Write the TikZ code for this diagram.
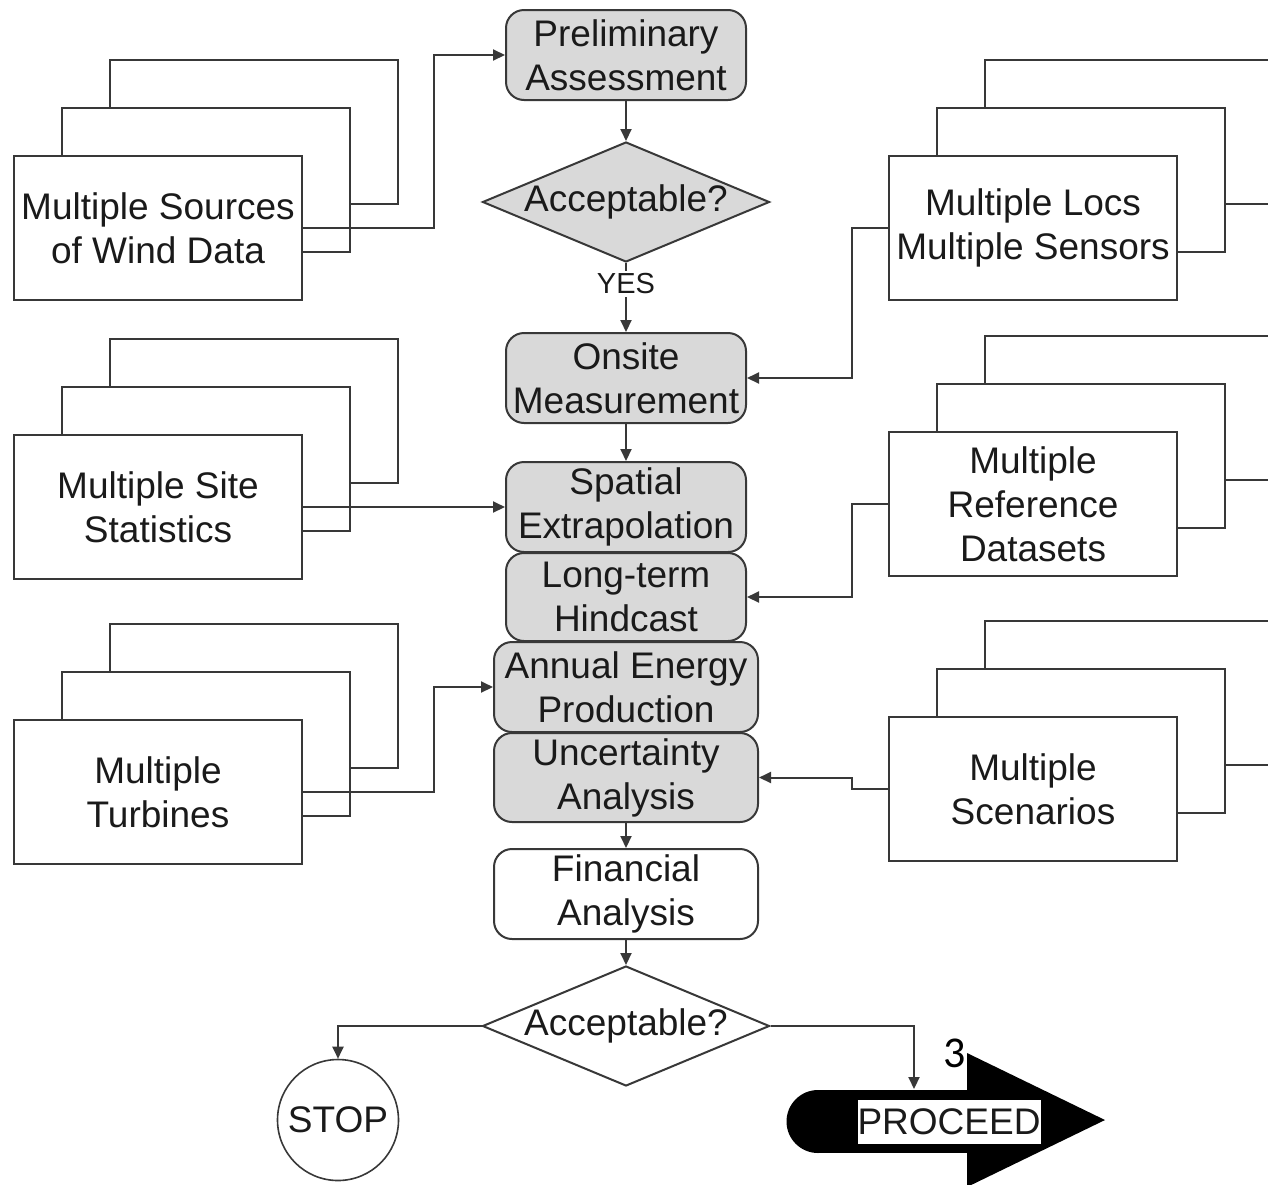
\documentclass[tikz,border=0pt]{standalone}
\usepackage{fontspec}
\setmainfont{Liberation Sans}
\newfontfamily\calibrifont{Carlito}
\usetikzlibrary{arrows.meta,shapes.geometric}
\definecolor{ln}{HTML}{383838}
\definecolor{boxgray}{HTML}{D9D9D9}
\definecolor{txt}{HTML}{1A1A1A}
\begin{document}
\begin{tikzpicture}[x=1pt,y=-1pt,
  mainfont/.style={font=\fontsize{37}{44}\selectfont, text=txt},
  proc/.style={mainfont, draw=ln, line width=2pt, rounded corners=18pt, fill=boxgray, align=center, inner sep=0pt},
  dia/.style={mainfont, shape=diamond, draw=ln, line width=2pt, shape aspect=2.39, minimum width=287pt, minimum height=120pt, inner sep=0pt},
  stackbox/.style={mainfont, draw=ln, line width=2pt, fill=white, minimum width=288pt, minimum height=144pt, inner sep=0pt, align=center},
  conn/.style={draw=ln, line width=2pt, -{Triangle[length=12pt,width=11pt]}},
  plain/.style={draw=ln, line width=2pt}]
\path[use as bounding box] (0,0) rectangle (1268,1184);
\clip (0,0) rectangle (1268,1184);

% left stacks
\node[stackbox] (l1back) at (254,132) {};
\node[stackbox] (l1mid) at (206,180) {};
\node[stackbox] (l1) at (158,228) {Multiple Sources\\of Wind Data};
\node[stackbox] (l2back) at (254,411) {};
\node[stackbox] (l2mid) at (206,459) {};
\node[stackbox] (l2) at (158,507) {Multiple Site\\Statistics};
\node[stackbox] (l3back) at (254,696) {};
\node[stackbox] (l3mid) at (206,744) {};
\node[stackbox] (l3) at (158,792) {Multiple\\Turbines};
% right stacks
\node[stackbox] (r1back) at (1129,132) {};
\node[stackbox] (r1mid) at (1081,180) {};
\node[stackbox] (r1) at (1033,228) {Multiple Locs\\Multiple Sensors};
\node[stackbox] (r2back) at (1129,408) {};
\node[stackbox] (r2mid) at (1081,456) {};
\node[stackbox] (r2) at (1033,504) {Multiple\\Reference\\Datasets};
\node[stackbox] (r3back) at (1129,693) {};
\node[stackbox] (r3mid) at (1081,741) {};
\node[stackbox] (r3) at (1033,789) {Multiple\\Scenarios};

% central column
\node[proc, minimum width=240pt, minimum height=90pt] (prelim) at (626,55) {Preliminary\\Assessment};
\node[dia, fill=boxgray] (acc1) at (626,202) {Acceptable?};
\node[font=\fontsize{29}{34}\selectfont, text=txt, inner sep=3pt] (yes) at (626,284) {YES};
\node[proc, minimum width=240pt, minimum height=90pt] (onsite) at (626,378) {Onsite\\Measurement};
\node[proc, minimum width=240pt, minimum height=90pt] (spatial) at (626,507) {Spatial\\Extrapolation};
\node[proc, minimum width=240pt, minimum height=88pt] (hind) at (626,597) {Long-term\\Hindcast};
\node[proc, minimum width=264pt, minimum height=90pt] (aep) at (626,687) {Annual Energy\\Production};
\node[proc, minimum width=264pt, minimum height=89pt] (unc) at (626,777.5) {Uncertainty\\Analysis};
\node[proc, minimum width=264pt, minimum height=90pt, fill=white] (fin) at (626,894) {Financial\\Analysis};
\node[dia, fill=white] (acc2) at (626,1026) {Acceptable?};
\node[mainfont, shape=circle, draw=ln, line width=1.6pt, minimum size=121pt, inner sep=0pt] (stop) at (338,1120) {STOP};

% proceed arrow
\fill[black] (818,1121.5) circle (31.5pt);
\fill[black] (818,1090) rectangle (968,1153);
\fill[black] (967,1053) -- (1105,1120) -- (967,1187) -- cycle;
\node[mainfont, draw=black, line width=0.8pt, fill=white, minimum width=184pt, minimum height=45pt, inner sep=0pt] (proceed) at (949,1121.5) {PROCEED};
\coordinate (procin) at (914,1089);
\node[font=\calibrifont\fontsize{44}{50}\selectfont, text=black, inner sep=0pt] (three) at (955,1053) {3};

% connectors
\draw[conn] (l1.east) -- ++(131,0) |- (prelim.west);
\draw[conn] (l2.east) -- (spatial.west);
\draw[conn] (l3.east) -- ++(131,0) |- (aep.west);
\draw[conn] (r1.west) -- ++(-36,0) |- (onsite.east);
\draw[conn] (r2.west) -- ++(-36,0) |- (hind.east);
\draw[conn] (r3.west) -- ++(-36,0) |- (unc.east);
\draw[conn] (prelim) -- (acc1);
\draw[plain] (acc1.south) -- (yes.north);
\draw[conn] (yes.south) -- (onsite.north);
\draw[conn] (onsite) -- (spatial);
\draw[conn] (unc) -- (fin);
\draw[conn] (fin) -- (acc2);
\draw[conn] (acc2.west) -| (stop.north);
\draw[conn] (acc2.east) -| (procin);
\end{tikzpicture}
\end{document}
